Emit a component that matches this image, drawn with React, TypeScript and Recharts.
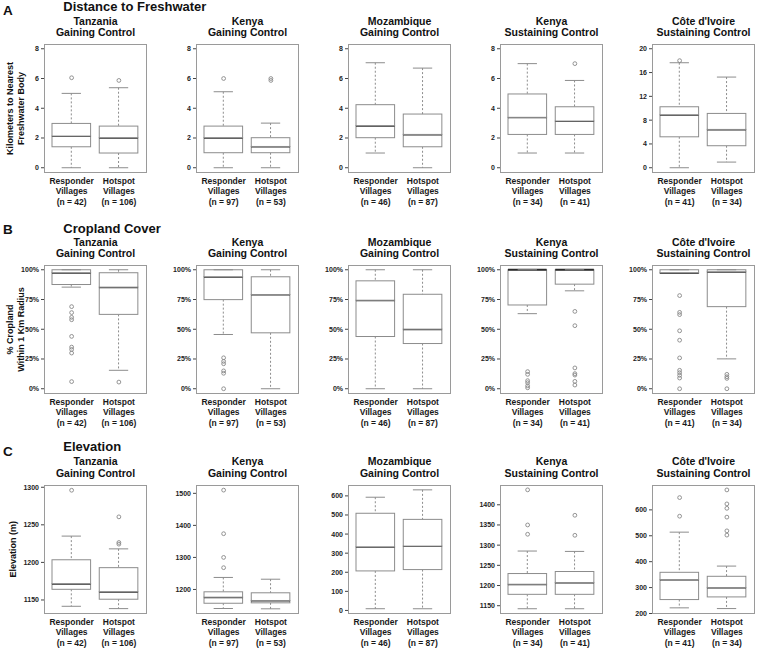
import React from 'react';
import { ComposedChart, Bar, Scatter, XAxis, YAxis } from 'recharts';

const FONT = "'Liberation Sans', Arial, Helvetica, sans-serif";

const countries = ['Tanzania', 'Kenya', 'Mozambique', 'Kenya', "Côte d'Ivoire"];
const controls = ['Gaining Control', 'Gaining Control', 'Gaining Control', 'Sustaining Control', 'Sustaining Control'];
const groups = ['Responder', 'Hotspot'];
const responderN = [42, 97, 46, 34, 41];
const hotspotN = [106, 53, 87, 41, 34];

// each box: [min, q1, median, q3, max]
const distanceResponder = [
  [0, 1.41, 2.13, 2.98, 5.0],
  [0, 1.01, 2.02, 2.8, 5.11],
  [0.99, 2.02, 2.83, 4.24, 7.06],
  [0.99, 2.24, 3.39, 4.96, 7.0],
  [0, 5.2, 8.9, 10.25, 17.65],
];
const distanceHotspot = [
  [0, 0.99, 2.02, 2.8, 5.38],
  [0, 1.01, 1.43, 2.02, 3.0],
  [0, 1.41, 2.24, 3.61, 6.7],
  [0.99, 2.24, 3.14, 4.1, 5.87],
  [0.95, 3.7, 6.44, 9.13, 15.24],
];
const distanceResponderOut = [[6.05], [6.0], [], [], [18.0]];
const distanceHotspotOut = [[5.87], [6.0, 5.87], [], [7.0], []];
const distanceDomains = [[-0.32, 8.32], [-0.32, 8.32], [-0.32, 8.32], [-0.32, 8.32], [-0.8, 20.8]];
const distanceTicks = [[0, 2, 4, 6, 8], [0, 2, 4, 6, 8], [0, 2, 4, 6, 8], [0, 2, 4, 6, 8], [0, 4, 8, 12, 16, 20]];

const croplandResponder = [
  [85.4, 87.6, 97.5, 100, 100],
  [45.6, 74.9, 94.1, 100, 100],
  [0, 43.9, 74.4, 90.7, 100],
  [63.1, 70.4, 100, 100, 100],
  [97, 97, 97.5, 100, 100],
];
const croplandHotspot = [
  [15.5, 62.5, 85.4, 97.5, 100],
  [0, 47, 79.2, 94.1, 100],
  [0, 38, 50.1, 79.4, 100],
  [82.3, 87.9, 100, 100, 100],
  [25.1, 69, 98.3, 100, 100],
];
const croplandResponderOut = [
  [69, 64, 60, 58, 44, 35, 33, 30, 6],
  [26, 23, 21, 15, 13, 0],
  [],
  [14.4, 12.1, 6.8, 5.1, 2.5, 0.8],
  [78.3, 64.2, 62.3, 48.7, 40.8, 25.9, 15.5, 13.5, 11.3, 9.0, 0],
];
const croplandHotspotOut = [[5.6], [], [], [65, 53, 17.5, 12.7, 11.5, 6.2, 3.1], [12.1, 10.1, 8.7, 0]];
const croplandDomain = [-4, 104];
const croplandTicks = [0, 25, 50, 75, 100];

const elevationResponder = [
  [1141.6, 1164.2, 1171.7, 1203.5, 1235],
  [1140.6, 1157, 1176, 1192.7, 1237.5],
  [9, 207, 333, 509, 593],
  [1142.5, 1178.2, 1203.2, 1229.7, 1285.4],
  [221.8, 253.8, 330.8, 359, 514],
];
const elevationHotspot = [
  [1138.5, 1151, 1161, 1193, 1218],
  [1139.6, 1158.3, 1165.6, 1189.6, 1232],
  [8.8, 214, 337, 477, 631.6],
  [1142.5, 1178.2, 1207.3, 1234.7, 1284.5],
  [219, 264, 300, 343.6, 383],
];
const elevationResponderOut = [[1296], [1510, 1374, 1300, 1268], [], [1437, 1350, 1327], [647.4, 575.6]];
const elevationHotspotOut = [[1260.6, 1226.5, 1224.3], [], [], [1374, 1324.4], [677, 623, 606, 572, 519, 502.6]];
const elevationDomains = [[1132, 1303], [1125, 1526], [-16, 657], [1130.7, 1449], [200, 696]];
const elevationTicks = [
  [1150, 1200, 1250, 1300],
  [1200, 1300, 1400, 1500],
  [0, 100, 200, 300, 400, 500, 600],
  [1150, 1200, 1250, 1300, 1350, 1400],
  [200, 300, 400, 500, 600],
];

const FRAME_W = 102.5;
const FRAME_H = 128.5;
const Y_W = 36;
const M_TOP = 6;
const M_RIGHT = 6;
const X_H = 40;
const colLeft = (i: number) => 44.3 + i * 152;
const rowTops = [44.3, 265.3, 485];

const BOX = '#8c8c8c';
const MED = '#2a2a2a';

const Empty = () => <g />;

const LowWhisker = ({ x, y, width, height }: any) => {
  const cx = x + width / 2;
  const b = y + height;
  return (
    <g>
      <line x1={cx} x2={cx} y1={y} y2={b} stroke={BOX} strokeDasharray="2 2" />
      <line x1={cx - width / 4} x2={cx + width / 4} y1={b} y2={b} stroke={BOX} />
    </g>
  );
};

const HighWhisker = ({ x, y, width, height }: any) => {
  const cx = x + width / 2;
  return (
    <g>
      <line x1={cx} x2={cx} y1={y} y2={y + height} stroke={BOX} strokeDasharray="2 2" />
      <line x1={cx - width / 4} x2={cx + width / 4} y1={y} y2={y} stroke={BOX} />
    </g>
  );
};

const LowBox = ({ x, y, width, height }: any) => (
  <g>
    <rect x={x} y={y} width={width} height={Math.max(height, 0)} fill="#fff" stroke={BOX} />
    <line x1={x} x2={x + width} y1={y} y2={y} stroke={MED} strokeWidth={2} />
  </g>
);

const HighBox = ({ x, y, width, height }: any) => (
  <rect x={x} y={y} width={width} height={Math.max(height, 0)} fill="#fff" stroke={BOX} />
);

const Outlier = ({ cx, cy }: any) => <circle cx={cx} cy={cy} r={1.9} fill="none" stroke="#888" strokeWidth={0.9} />;

interface PanelProps {
  left: number;
  top: number;
  boxes: number[][];
  outliers: number[][];
  domain: number[];
  ticks: number[];
  ns: number[];
  percent?: boolean;
}

const Panel: React.FC<PanelProps> = ({ left, top, boxes, outliers, domain, ticks, ns, percent }) => {
  const data = groups.map((g, k) => {
    const [mn, q1, md, q3, mx] = boxes[k];
    return { name: g, base: mn, wlo: q1 - mn, blo: md - q1, bhi: q3 - md, whi: mx - q3 };
  });
  const pts = outliers.flatMap((arr, k) => arr.map((v) => ({ name: groups[k], v })));
  const W = Y_W + FRAME_W + M_RIGHT;
  const H = M_TOP + FRAME_H + X_H;

  const XTick = (p: any) => {
    const lines = [groups[p.index] ?? p.payload.value, 'Villages', `(n = ${ns[p.index]})`];
    return (
      <text x={p.x} y={p.y} textAnchor="middle" fontFamily={FONT} fontWeight="bold" fontSize={8.5} fill="#1a1a1a">
        {lines.map((l, i) => (
          <tspan key={i} x={p.x} y={p.y + 11.7 + i * 10.2}>{l}</tspan>
        ))}
      </text>
    );
  };

  return (
    <div style={{ position: 'absolute', left: left - Y_W, top: top - M_TOP, width: W, height: H }}>
      <div
        style={{
          position: 'absolute', left: Y_W, top: M_TOP, width: FRAME_W, height: FRAME_H,
          border: '1px solid #9a9a9a', boxSizing: 'border-box',
        }}
      />
      <div style={{ position: 'absolute', left: 0, top: 0 }}>
        <ComposedChart width={W} height={H} data={data} margin={{ top: M_TOP, right: M_RIGHT, left: 0, bottom: 0 }}>
          <XAxis
            dataKey="name"
            type="category"
            allowDuplicatedCategory={false}
            padding={{ left: 4, right: 4 }}
            axisLine={false}
            tickLine={false}
            tickSize={0}
            tickMargin={0}
            interval={0}
            height={X_H}
            tick={XTick}
          />
          <YAxis
            type="number"
            domain={domain}
            ticks={ticks}
            allowDataOverflow
            interval={0}
            width={Y_W}
            axisLine={false}
            tickSize={3}
            tickMargin={2}
            tickLine={{ stroke: '#444' }}
            tick={{ fontSize: 7, fontWeight: 'bold', fill: '#222', fontFamily: FONT }}
            tickFormatter={(v: number) => (percent ? `${v}%` : `${v}`)}
          />
          <Bar dataKey="base" stackId="b" barSize={38.6} shape={Empty} isAnimationActive={false} />
          <Bar dataKey="wlo" stackId="b" barSize={38.6} shape={LowWhisker} isAnimationActive={false} />
          <Bar dataKey="blo" stackId="b" barSize={38.6} shape={LowBox} isAnimationActive={false} />
          <Bar dataKey="bhi" stackId="b" barSize={38.6} shape={HighBox} isAnimationActive={false} />
          <Bar dataKey="whi" stackId="b" barSize={38.6} shape={HighWhisker} isAnimationActive={false} />
          <Scatter data={pts} dataKey="v" shape={Outlier} isAnimationActive={false} />
        </ComposedChart>
      </div>
    </div>
  );
};

const rows = [
  {
    letter: 'A', title: 'Distance to Freshwater', ylab: ['Kilometers to Nearest', 'Freshwater Body'],
    resp: distanceResponder, hot: distanceHotspot, respOut: distanceResponderOut, hotOut: distanceHotspotOut,
    domains: distanceDomains, ticks: distanceTicks, percent: false,
    letterBase: 15.3, titleBase: 11.2,
  },
  {
    letter: 'B', title: 'Cropland Cover', ylab: ['% Cropland', 'Within 1 Km Radius'],
    resp: croplandResponder, hot: croplandHotspot, respOut: croplandResponderOut, hotOut: croplandHotspotOut,
    domains: countries.map(() => croplandDomain), ticks: countries.map(() => croplandTicks), percent: true,
    letterBase: 234, titleBase: 233,
  },
  {
    letter: 'C', title: 'Elevation', ylab: ['Elevation (m)'],
    resp: elevationResponder, hot: elevationHotspot, respOut: elevationResponderOut, hotOut: elevationHotspotOut,
    domains: elevationDomains, ticks: elevationTicks, percent: false,
    letterBase: 455.5, titleBase: 451,
  },
];

export default function App() {
  return (
    <div style={{ position: 'absolute', left: 0, top: 0, width: 757, height: 648, background: '#fff', overflow: 'hidden' }}>
      {rows.map((row, r) =>
        countries.map((c, i) => (
          <Panel
            key={`${r}-${i}`}
            left={colLeft(i)}
            top={rowTops[r]}
            boxes={[row.resp[i], row.hot[i]]}
            outliers={[row.respOut[i], row.hotOut[i]]}
            domain={row.domains[i]}
            ticks={row.ticks[i]}
            ns={[responderN[i], hotspotN[i]]}
            percent={row.percent}
          />
        ))
      )}
      <svg width={757} height={648} style={{ position: 'absolute', left: 0, top: 0, pointerEvents: 'none' }}>
        {rows.map((row, r) => {
          const top = rowTops[r];
          const midY = top + FRAME_H / 2;
          const ylx = row.ylab.length === 2 ? [12.8, 24.3] : [16];
          return (
            <g key={r} fontFamily={FONT} fontWeight="bold" fill="#111">
              <text x={3} y={row.letterBase} fontSize={13.5}>{row.letter}</text>
              <text x={63.3} y={row.titleBase} fontSize={13}>{row.title}</text>
              {countries.map((c, i) => {
                const cx = colLeft(i) + FRAME_W / 2;
                return (
                  <g key={i} fontSize={10.5} textAnchor="middle">
                    <text x={cx} y={top - 19.6}>{c}</text>
                    <text x={cx} y={top - 8.3}>{controls[i]}</text>
                  </g>
                );
              })}
              {row.ylab.map((l, k) => (
                <text
                  key={k}
                  x={ylx[k]}
                  y={midY}
                  fontSize={9}
                  textAnchor="middle"
                  transform={`rotate(-90 ${ylx[k]} ${midY})`}
                >
                  {l}
                </text>
              ))}
            </g>
          );
        })}
      </svg>
    </div>
  );
}
